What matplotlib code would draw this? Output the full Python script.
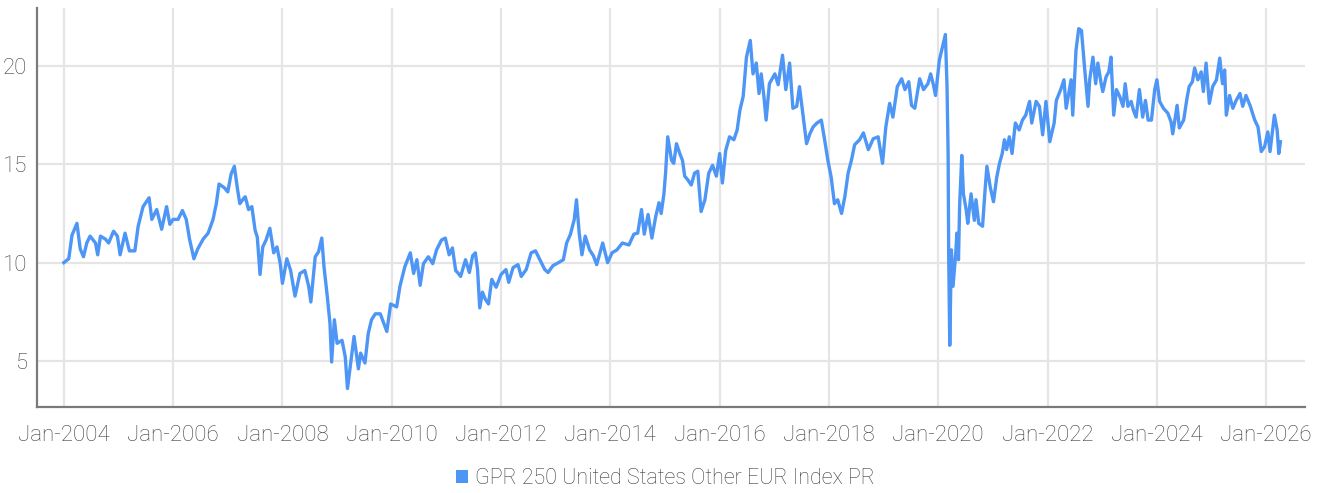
import numpy as np
import matplotlib
matplotlib.use('Agg')
import matplotlib.pyplot as plt
from matplotlib.patches import Patch

# index level (decimal year, value)
years = [
    2004.00, 2004.09, 2004.15, 2004.24, 2004.30, 2004.36, 2004.42, 2004.48, 2004.58, 2004.62,
    2004.67, 2004.76, 2004.82, 2004.91, 2004.98, 2005.03, 2005.12, 2005.20, 2005.30, 2005.36,
    2005.45, 2005.56, 2005.61, 2005.70, 2005.79, 2005.88, 2005.94, 2006.00, 2006.09, 2006.17,
    2006.24, 2006.30, 2006.38, 2006.45, 2006.55, 2006.64, 2006.73, 2006.79, 2006.84, 2006.94,
    2007.00, 2007.06, 2007.12, 2007.18, 2007.22, 2007.30, 2007.32, 2007.38, 2007.44, 2007.50,
    2007.54, 2007.59, 2007.64, 2007.70, 2007.77, 2007.84, 2007.90, 2007.96, 2008.00, 2008.08,
    2008.15, 2008.23, 2008.32, 2008.41, 2008.48, 2008.52, 2008.60, 2008.66, 2008.72, 2008.76,
    2008.82, 2008.87, 2008.90, 2008.95, 2009.00, 2009.09, 2009.15, 2009.19, 2009.24, 2009.31,
    2009.39, 2009.43, 2009.51, 2009.57, 2009.63, 2009.70, 2009.79, 2009.91, 2009.98, 2010.09,
    2010.15, 2010.24, 2010.34, 2010.40, 2010.46, 2010.52, 2010.58, 2010.67, 2010.75, 2010.82,
    2010.91, 2010.98, 2011.05, 2011.11, 2011.17, 2011.22, 2011.26, 2011.35, 2011.42, 2011.48,
    2011.53, 2011.57, 2011.61, 2011.66, 2011.71, 2011.77, 2011.83, 2011.91, 2012.00, 2012.09,
    2012.14, 2012.22, 2012.31, 2012.37, 2012.46, 2012.55, 2012.63, 2012.71, 2012.80, 2012.86,
    2012.95, 2013.05, 2013.14, 2013.20, 2013.27, 2013.34, 2013.38, 2013.43, 2013.48, 2013.54,
    2013.62, 2013.69, 2013.75, 2013.86, 2013.95, 2014.03, 2014.12, 2014.22, 2014.34, 2014.43,
    2014.50, 2014.57, 2014.62, 2014.69, 2014.76, 2014.83, 2014.89, 2014.93, 2014.98, 2015.01,
    2015.05, 2015.12, 2015.16, 2015.21, 2015.27, 2015.32, 2015.36, 2015.42, 2015.48, 2015.54,
    2015.60, 2015.66, 2015.73, 2015.80, 2015.87, 2015.94, 2016.00, 2016.05, 2016.11, 2016.18,
    2016.26, 2016.32, 2016.37, 2016.43, 2016.49, 2016.56, 2016.61, 2016.67, 2016.72, 2016.76,
    2016.81, 2016.85, 2016.91, 2017.01, 2017.07, 2017.15, 2017.21, 2017.28, 2017.34, 2017.41,
    2017.46, 2017.52, 2017.59, 2017.65, 2017.71, 2017.78, 2017.86, 2017.92, 2017.98, 2018.04,
    2018.10, 2018.16, 2018.23, 2018.29, 2018.35, 2018.41, 2018.47, 2018.56, 2018.63, 2018.72,
    2018.81, 2018.90, 2018.98, 2019.04, 2019.11, 2019.17, 2019.25, 2019.33, 2019.39, 2019.46,
    2019.51, 2019.57, 2019.66, 2019.73, 2019.81, 2019.86, 2019.91, 2019.95, 2020.02, 2020.08,
    2020.13, 2020.16, 2020.18, 2020.19, 2020.21, 2020.24, 2020.27, 2020.32, 2020.34, 2020.37,
    2020.39, 2020.43, 2020.46, 2020.51, 2020.54, 2020.60, 2020.66, 2020.69, 2020.74, 2020.81,
    2020.86, 2020.89, 2020.95, 2021.01, 2021.07, 2021.12, 2021.17, 2021.21, 2021.25, 2021.30,
    2021.35, 2021.41, 2021.48, 2021.54, 2021.60, 2021.67, 2021.71, 2021.79, 2021.85, 2021.91,
    2021.97, 2022.04, 2022.12, 2022.16, 2022.24, 2022.30, 2022.34, 2022.43, 2022.46, 2022.52,
    2022.57, 2022.62, 2022.65, 2022.68, 2022.74, 2022.77, 2022.83, 2022.88, 2022.92, 2022.98,
    2023.01, 2023.07, 2023.12, 2023.16, 2023.21, 2023.26, 2023.32, 2023.38, 2023.42, 2023.47,
    2023.53, 2023.57, 2023.62, 2023.68, 2023.74, 2023.79, 2023.84, 2023.90, 2023.96, 2024.00,
    2024.05, 2024.12, 2024.20, 2024.26, 2024.29, 2024.37, 2024.41, 2024.49, 2024.55, 2024.59,
    2024.65, 2024.69, 2024.75, 2024.81, 2024.85, 2024.90, 2024.96, 2025.02, 2025.09, 2025.15,
    2025.20, 2025.24, 2025.27, 2025.33, 2025.39, 2025.45, 2025.52, 2025.57, 2025.63, 2025.71,
    2025.79, 2025.85, 2025.91, 2025.97, 2026.03, 2026.07, 2026.15, 2026.20, 2026.23, 2026.26,
]
values = [
    10.0, 10.2, 11.4, 12.0, 10.7, 10.3, 11.0, 11.35, 11.0, 10.4,
    11.35, 11.2, 11.0, 11.6, 11.35, 10.4, 11.5, 10.6, 10.6, 11.85,
    12.85, 13.3, 12.2, 12.7, 11.7, 12.85, 11.95, 12.2, 12.2, 12.65,
    12.2, 11.2, 10.2, 10.7, 11.2, 11.5, 12.2, 13.0, 14.0, 13.8,
    13.6, 14.5, 14.9, 13.7, 13.0, 13.3, 13.35, 12.7, 12.85, 11.65,
    11.3, 9.4, 10.8, 11.15, 11.75, 10.5, 10.8, 9.95, 8.95, 10.2,
    9.6, 8.3, 9.45, 9.6, 8.8, 8.0, 10.3, 10.55, 11.25, 9.8,
    8.3, 6.9, 4.95, 7.1, 5.9, 6.05, 5.2, 3.6, 4.7, 6.25,
    4.6, 5.4, 4.9, 6.4, 7.1, 7.4, 7.4, 6.5, 7.9, 7.75,
    8.8, 9.8, 10.5, 9.45, 10.15, 8.85, 9.95, 10.3, 9.95, 10.65,
    11.15, 11.25, 10.4, 10.75, 9.6, 9.45, 9.3, 10.15, 9.5, 10.35,
    10.5, 9.65, 7.7, 8.5, 8.15, 7.9, 9.15, 8.75, 9.4, 9.65,
    9.0, 9.75, 9.9, 9.3, 9.65, 10.5, 10.6, 10.15, 9.65, 9.5,
    9.85, 10.0, 10.15, 11.0, 11.45, 12.2, 13.2, 11.5, 10.4, 11.35,
    10.65, 10.35, 9.9, 11.0, 10.0, 10.5, 10.65, 11.0, 10.9, 11.45,
    11.5, 12.7, 11.45, 12.45, 11.25, 12.35, 13.05, 12.5, 13.5, 14.55,
    16.4, 15.2, 15.05, 16.05, 15.55, 15.2, 14.4, 14.2, 13.95, 14.55,
    14.65, 12.6, 13.2, 14.55, 14.95, 14.4, 15.55, 14.05, 15.7, 16.4,
    16.25, 16.75, 17.75, 18.45, 20.45, 21.3, 19.6, 20.15, 18.6, 19.6,
    18.45, 17.25, 19.1, 19.6, 19.05, 20.55, 18.8, 20.15, 17.85, 17.95,
    18.95, 17.6, 16.05, 16.55, 16.9, 17.1, 17.25, 16.25, 15.2, 14.35,
    13.0, 13.2, 12.5, 13.35, 14.55, 15.2, 16.0, 16.25, 16.6, 15.75,
    16.3, 16.4, 15.05, 16.9, 18.1, 17.4, 18.95, 19.35, 18.8, 19.2,
    18.0, 17.85, 19.35, 18.8, 19.1, 19.6, 19.05, 18.5, 20.3, 21.0,
    21.6, 18.95, 15.55, 10.5, 5.8, 10.65, 8.8, 10.5, 11.5, 10.15,
    12.85, 15.45, 13.5, 12.7, 12.0, 13.5, 12.15, 13.2, 12.0, 11.85,
    13.85, 14.9, 13.85, 13.1, 14.35, 15.05, 15.55, 16.25, 15.75, 16.4,
    15.55, 17.1, 16.75, 17.25, 17.5, 18.2, 17.1, 18.2, 17.95, 16.5,
    18.2, 16.15, 17.1, 18.25, 18.8, 19.3, 17.85, 19.3, 17.5, 20.8,
    21.9, 21.8, 20.8, 19.8, 17.95, 19.3, 20.45, 19.1, 20.15, 19.1,
    18.7, 19.45, 19.7, 20.45, 17.5, 18.8, 18.45, 17.95, 19.1, 17.95,
    18.2, 17.75, 17.4, 18.8, 17.4, 18.25, 17.25, 17.25, 18.8, 19.3,
    18.2, 17.85, 17.6, 17.15, 16.55, 18.0, 16.85, 17.25, 18.35, 18.95,
    19.2, 19.9, 19.3, 19.7, 18.7, 20.15, 18.1, 18.95, 19.3, 20.4,
    19.1, 19.8, 17.5, 18.5, 17.85, 18.25, 18.6, 17.95, 18.5, 17.95,
    17.25, 16.9, 15.65, 15.9, 16.65, 15.65, 17.5, 16.75, 15.55, 16.15,
]

tick_years = [2004, 2006, 2008, 2010, 2012, 2014, 2016, 2018, 2020, 2022, 2024, 2026]
tick_labels = ['Jan-%d' % y for y in tick_years]
y_ticks = [5, 10, 15, 20]
series_name = 'GPR 250 United States Other EUR Index PR'

line_color = '#4d96f5'
text_color = '#3f3f3f'

plt.rcParams['font.family'] = ['Roboto', 'DejaVu Sans']
plt.rcParams['font.weight'] = 'light'

fig = plt.figure(figsize=(13.23, 4.93), dpi=100)
ax = fig.add_axes([0.028, 0.1744, 0.9584, 0.8094])

ax.plot(years, values, color=line_color, linewidth=2.4, solid_joinstyle='round')

ax.set_xlim(2003.51, 2026.71)
ax.set_ylim(2.66, 22.95)
ax.set_xticks(tick_years)
ax.set_xticklabels(tick_labels)
ax.set_yticks(y_ticks)

# grid + spines
ax.grid(True, color='#e5e5e5', linewidth=1.6)
ax.set_axisbelow(True)
for side in ['top', 'right']:
    ax.spines[side].set_visible(False)
for side in ['left', 'bottom']:
    ax.spines[side].set_color('#7a7a7a')
    ax.spines[side].set_linewidth(1.6)
ax.tick_params(axis='both', length=0, labelsize=16, labelcolor=text_color)
ax.tick_params(axis='x', pad=13)
ax.tick_params(axis='y', pad=7)

# legend below the axis
handle = Patch(facecolor=line_color, edgecolor='none', label=series_name)
fig.legend(handles=[handle], loc='center', bbox_to_anchor=(0.503, 0.03), frameon=False,
           fontsize=15.5, labelcolor=text_color, handlelength=0.55, handleheight=0.55,
           handletextpad=0.3)

fig.savefig('out.png', dpi=100)
